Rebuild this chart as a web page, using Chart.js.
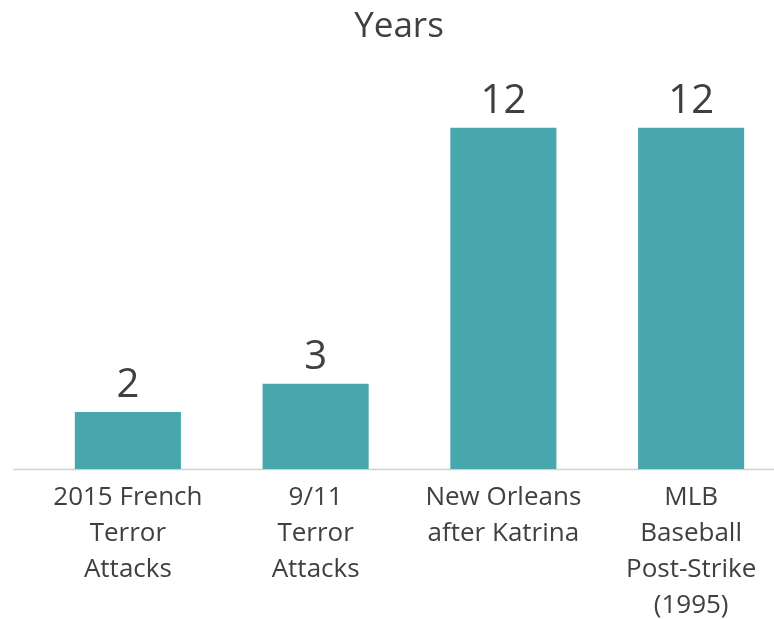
<!DOCTYPE html>
<html>
<head>
<meta charset="utf-8">
<script src="https://cdn.jsdelivr.net/npm/chart.js@4"></script>
<style>
  html, body { margin: 0; padding: 0; background: #fff; overflow: hidden; }
  #wrap { width: 774px; height: 619px; overflow: hidden; }
</style>
</head>
<body>
<div id="wrap"><canvas id="yearsChart" width="800" height="619"></canvas></div>
<script>
// recovery time, in years
const categories = [
    ['2015 French', 'Terror', 'Attacks'],
    ['9/11', 'Terror', 'Attacks'],
    ['New Orleans', 'after Katrina'],
    ['MLB', 'Baseball', 'Post-Strike', '(1995)']
];
const years = [2, 3, 12, 12];
const chartTitle = 'Years';

const textColor = '#404040';
const barColor = '#48A6AD';

// title centred on the whole figure, not just the plot area
const figureTitle = {
    id: 'figureTitle',
    afterDraw(chart) {
        const ctx = chart.ctx;
        ctx.save();
        ctx.fillStyle = textColor;
        ctx.font = '35px "Open Sans"';
        ctx.textAlign = 'center';
        ctx.textBaseline = 'middle';
        ctx.fillText(chartTitle, 399, 27);
        ctx.restore();
    }
};

// value labels above each bar
const valueLabels = {
    id: 'valueLabels',
    afterDatasetsDraw(chart) {
        const ctx = chart.ctx;
        const meta = chart.getDatasetMeta(0);
        ctx.save();
        ctx.fillStyle = textColor;
        ctx.font = '40px "Open Sans"';
        ctx.textAlign = 'center';
        ctx.textBaseline = 'alphabetic';
        meta.data.forEach((bar, i) => {
            ctx.fillText(String(chart.data.datasets[0].data[i]), bar.x, bar.y - 15);
        });
        ctx.restore();
    }
};

// light baseline under the bars
const baseline = {
    id: 'baseline',
    beforeDatasetsDraw(chart) {
        const ctx = chart.ctx;
        const y = Math.round(chart.scales.y.getPixelForValue(0)) + 0.5;
        ctx.save();
        ctx.strokeStyle = '#d0d0d0';
        ctx.lineWidth = 1.5;
        ctx.beginPath();
        ctx.moveTo(13, y);
        ctx.lineTo(chart.width, y);
        ctx.stroke();
        ctx.restore();
    }
};

new Chart(document.getElementById('yearsChart'), {
    type: 'bar',
    data: {
        labels: categories,
        datasets: [{
            label: chartTitle,
            data: years,
            backgroundColor: barColor,
            barPercentage: 0.565,
            categoryPercentage: 1
        }]
    },
    options: {
        responsive: false,
        animation: false,
        layout: { padding: { left: 34, right: 15, top: 71, bottom: -16 } },
        plugins: {
            legend: { display: false },
            tooltip: { enabled: false },
            title: { display: false }
        },
        scales: {
            x: {
                grid: { display: false, drawTicks: false },
                border: { display: false },
                ticks: {
                    color: textColor,
                    font: { family: 'Open Sans', size: 26, lineHeight: 1.385 },
                    padding: 11,
                    maxRotation: 0,
                    autoSkip: false
                }
            },
            y: {
                display: false,
                min: 0,
                max: 14
            }
        }
    },
    plugins: [baseline, valueLabels, figureTitle]
});
</script>
</body>
</html>
